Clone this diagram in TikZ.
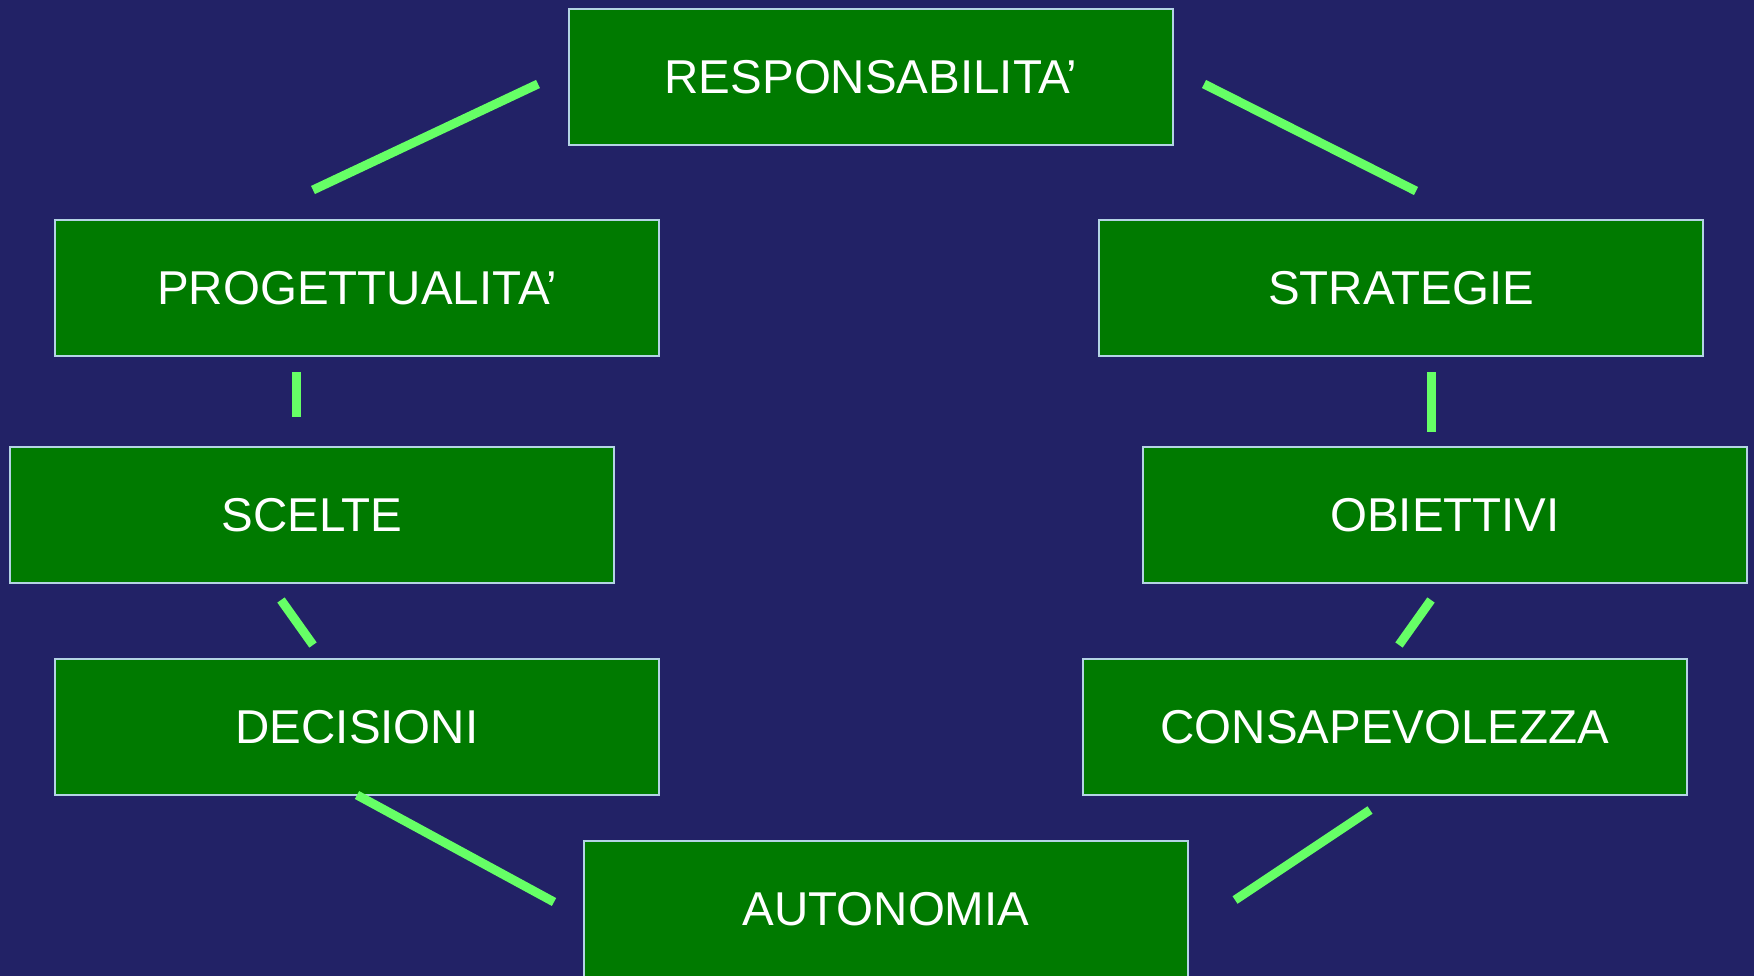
\documentclass[tikz,border=0pt]{standalone}
\usepackage{fontspec}
\setmainfont{Liberation Sans}
\definecolor{bgnavy}{HTML}{222266}
\definecolor{boxgreen}{HTML}{007A00}
\definecolor{boxedge}{HTML}{B4D4E4}
\definecolor{linkgreen}{HTML}{66FF66}

\begin{document}
\begin{tikzpicture}[x=1pt, y=-1pt,
    concept/.style={draw=boxedge, line width=2pt, fill=boxgreen, text=white,
        minimum width=604pt, minimum height=136pt, inner sep=0pt,
        font=\fontsize{47.5}{56}\selectfont},
    link/.style={linkgreen, line width=9pt}]
\useasboundingbox[fill=bgnavy] (0,0) rectangle (1754,976);
% concept boxes
\node[concept] (resp)   at (871,77)    {RESPONSABILITA’};
\node[concept] (prog)   at (357,288)   {PROGETTUALITA’};
\node[concept] (strat)  at (1401,288)  {STRATEGIE};
\node[concept] (scelte) at (312,515)   {SCELTE};
\node[concept] (obiet)  at (1445,515)  {OBIETTIVI};
\node[concept] (decis)  at (357,727)   {DECISIONI};
\node[concept] (consap) at (1385,727)  {CONSAPEVOLEZZA};
\node[concept] (auton)  at (886,909)   {AUTONOMIA};
% link end points
\coordinate (l1a) at (313,190);  \coordinate (l1b) at (538,84);
\coordinate (l2a) at (1204,84);  \coordinate (l2b) at (1416,191);
\coordinate (l3a) at (296,372);  \coordinate (l3b) at (296,417);
\coordinate (l4a) at (1431,372); \coordinate (l4b) at (1431,432);
\coordinate (l5a) at (281,600);  \coordinate (l5b) at (313,645);
\coordinate (l6a) at (1431,600); \coordinate (l6b) at (1399,645);
\coordinate (l7a) at (357,795);  \coordinate (l7b) at (554,902);
\coordinate (l8a) at (1235,900); \coordinate (l8b) at (1370,810);
% links
\foreach \a/\b in {l1a/l1b,l2a/l2b,l3a/l3b,l4a/l4b,l5a/l5b,l6a/l6b,l7a/l7b,l8a/l8b} {
    \draw[link] (\a) -- (\b);
}
\end{tikzpicture}
\end{document}
